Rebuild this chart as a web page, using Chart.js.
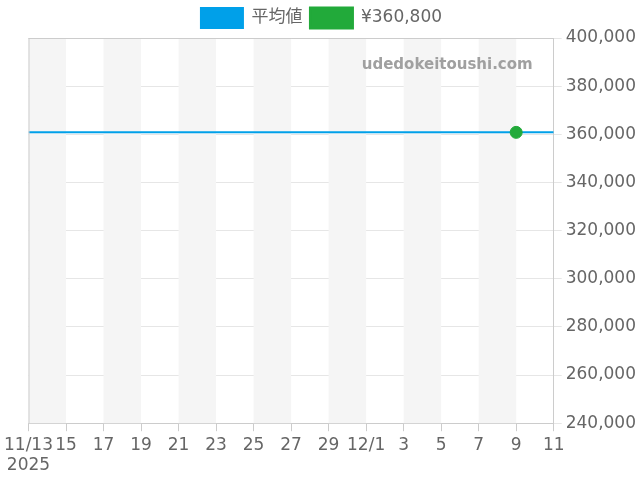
<!DOCTYPE html>
<html><head><meta charset="utf-8">
<script src="https://cdn.jsdelivr.net/npm/chart.js@4/dist/chart.umd.min.js"></script>
<style>html,body{margin:0;padding:0;background:#fff}#w{width:640px;height:480px}</style>
</head><body><div id="w"><canvas id="c"></canvas></div>
<script>
const startLabel = ["11/13", "2025"];
const dayLabels = ["11/13","15","17","19","21","23","25","27","29","12/1","3","5","7","9","11"];
const priceDays = [26];
const priceValues = [360800];
const avgValue = 360800;
const yMin = 240000, yMax = 400000, yStep = 20000;
const xMin = 0, xMax = 28;

const bands = {
  id: 'bands',
  beforeDatasetsDraw(chart) {
    const {ctx, chartArea: a, scales: {x}} = chart;
    ctx.save();
    ctx.fillStyle = '#f5f5f5';
    for (let d = xMin; d < xMax; d += 4) {
      const x0 = x.getPixelForValue(d), x1 = x.getPixelForValue(Math.min(d + 2, xMax));
      ctx.fillRect(x0, a.top, x1 - x0, a.bottom - a.top);
    }
    ctx.restore();
  }
};
const watermark = {
  id: 'wm',
  afterDraw(chart) {
    const {ctx, chartArea: a} = chart;
    ctx.save();
    ctx.font = 'bold 15px "DejaVu Sans"';
    ctx.fillStyle = '#a0a0a0';
    ctx.textAlign = 'right';
    ctx.textBaseline = 'middle';
    ctx.fillText('udedokeitoushi.com', a.right - 21, a.top + 27);
    ctx.restore();
  }
};

new Chart(document.getElementById('c'), {
  type: 'line',
  data: {
    datasets: [
      { label: '¥360,800', data: priceDays.map((d, i) => ({x: d, y: priceValues[i]})),
        borderColor: '#22aa3a', backgroundColor: '#22aa3a', pointRadius: 6, pointHoverRadius: 6, showLine: false },
      { label: '平均値', data: [{x: xMin, y: avgValue}, {x: xMax, y: avgValue}],
        borderColor: '#00a0e9', backgroundColor: '#00a0e9', borderWidth: 2, pointRadius: 0 }
    ]
  },
  options: {
    responsive: true, maintainAspectRatio: false, animation: false,
    layout: { padding: { left: 3, right: 0, top: 0, bottom: 0 } },
    plugins: {
      legend: { labels: { font: { family: '"DejaVu Sans","Noto Sans CJK JP"', size: 17 }, color: '#666', boxWidth: 42, boxHeight: 20, padding: 8,
        sort: (a, b) => b.datasetIndex - a.datasetIndex } },
      tooltip: { enabled: false }
    },
    scales: {
      x: { type: 'linear', min: xMin, max: xMax,
        grid: { display: true, drawOnChartArea: false, tickLength: 8, color: '#ccc' },
        border: { color: '#ccc' },
        ticks: { stepSize: 2, autoSkip: false, maxRotation: 0, color: '#666', font: { family: '"DejaVu Sans"', size: 17 }, padding: 4,
          callback: (v) => { const i = Math.round((v - xMin) / 2); return i === 0 ? startLabel : dayLabels[i]; } } },
      y: { position: 'right', min: yMin, max: yMax,
        grid: { color: '#e6e6e6', tickLength: 8 },
        border: { color: '#ccc' },
        ticks: { stepSize: yStep, color: '#666', font: { family: '"DejaVu Sans"', size: 17 }, padding: 4,
          callback: (v) => v.toLocaleString('en-US') } }
    }
  },
  plugins: [bands, watermark, {
    id: 'topBorder',
    afterDatasetsDraw(chart) {
      const {ctx, chartArea: a} = chart;
      ctx.save(); ctx.strokeStyle = '#ccc'; ctx.lineWidth = 1;
      ctx.beginPath(); ctx.moveTo(a.left, a.top + 0.5); ctx.lineTo(a.right, a.top + 0.5);
      ctx.moveTo(a.left + 0.5, a.top); ctx.lineTo(a.left + 0.5, a.bottom); ctx.stroke(); ctx.restore();
    }
  }]
});
</script></body></html>
